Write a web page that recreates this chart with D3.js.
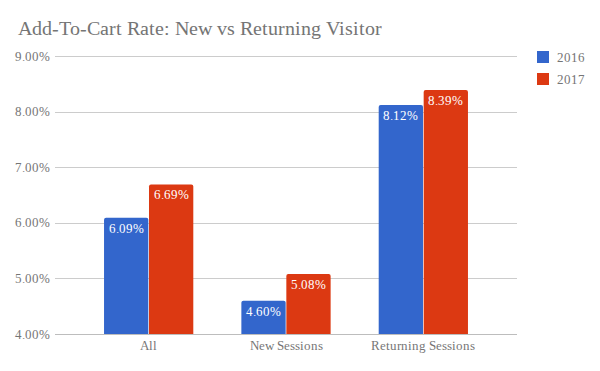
<!DOCTYPE html>
<html>
<head>
<meta charset="utf-8">
<script src="https://cdn.jsdelivr.net/npm/d3@7"></script>
<style>
  @font-face { font-family: "ChartSerif"; src: local("Liberation Serif"), local("LiberationSerif"), local("Tinos"), local("Times New Roman"); }
  body { margin: 0; background: #fff; font-family: "ChartSerif", "Liberation Serif", serif; }
</style>
</head>
<body>
<div id="chart"></div>
<script>
var categories = ["All", "New Sessions", "Returning Sessions"];
var seriesNames = ["2016", "2017"];
var values2016 = [6.09, 4.60, 8.12];
var values2017 = [6.69, 5.08, 8.39];
var yTicks = [4, 5, 6, 7, 8, 9];

var width = 600,
    height = 371,
    font = "ChartSerif, 'Liberation Serif', serif";

var colors = ["#3366cc", "#dc3912"];

var svg = d3.select("#chart").append("svg")
    .attr("width", width)
    .attr("height", height)
    .attr("font-family", font);

/* scales */
var x = d3.scaleBand()
    .domain(categories)
    .range([80, 492])
    .paddingInner(0.35)
    .paddingOuter(0.175);

var x1 = d3.scaleBand()
    .domain(seriesNames)
    .range([0, x.bandwidth()])
    .paddingInner(0.015);

var y = d3.scaleLinear()
    .domain([4, 9])
    .range([334, 56]);

/* title */
svg.append("text")
    .attr("x", 18)
    .attr("y", 35)
    .attr("font-size", 19.5)
    .attr("fill", "#757575")
    .attr("font-family", font)
    .text("Add-To-Cart Rate: New vs Returning Visitor");

/* gridlines + y labels */
var grid = svg.append("g");
grid.selectAll("line")
    .data(yTicks)
    .enter().append("line")
    .attr("x1", 55)
    .attr("x2", 517)
    .attr("y1", function(d) { return Math.round(y(d)) + 0.5; })
    .attr("y2", function(d) { return Math.round(y(d)) + 0.5; })
    .attr("stroke", function(d) { return d == 4 ? "#bdbdbd" : "#cccccc"; })
    .attr("stroke-width", 1);

grid.selectAll("text")
    .data(yTicks)
    .enter().append("text")
    .attr("x", 50)
    .attr("y", function(d) { return y(d) + 4.5; })
    .attr("text-anchor", "end")
    .attr("font-size", 12.5)
    .attr("fill", "#757575")
    .attr("font-family", font)
    .text(function(d) { return d.toFixed(2) + "%"; });

/* bars */
var rows = categories.map(function(c, i) {
    return { cat: c, vals: [
        { name: seriesNames[0], v: values2016[i], c: colors[0] },
        { name: seriesNames[1], v: values2017[i], c: colors[1] }
    ] };
});

var groups = svg.append("g")
    .selectAll("g")
    .data(rows)
    .enter().append("g")
    .attr("transform", function(d) { return "translate(" + x(d.cat) + ",0)"; });

var bar = groups.selectAll("g")
    .data(function(d) { return d.vals; })
    .enter().append("g");

bar.append("path")
    .attr("fill", function(d) { return d.c; })
    .attr("d", function(d) {
        var x0 = x1(d.name), w = x1.bandwidth(), t = y(d.v), b = y(4), r = 2;
        return "M" + x0 + "," + b + "V" + (t + r) + "Q" + x0 + "," + t + " " + (x0 + r) + "," + t +
               "H" + (x0 + w - r) + "Q" + (x0 + w) + "," + t + " " + (x0 + w) + "," + (t + r) + "V" + b + "Z";
    });

bar.append("text")
    .attr("x", function(d) { return x1(d.name) + x1.bandwidth() / 2; })
    .attr("y", function(d) { return y(d.v) + 15; })
    .attr("text-anchor", "middle")
    .attr("font-size", 12.5)
    .attr("fill", "#fff")
    .attr("font-family", font)
    .text(function(d) { return d.v.toFixed(2) + "%"; });

/* x labels */
svg.append("g")
    .selectAll("text")
    .data(categories)
    .enter().append("text")
    .attr("x", function(d) { return x(d) + x.bandwidth() / 2; })
    .attr("y", 350)
    .attr("text-anchor", "middle")
    .attr("font-size", 12.5)
    .attr("fill", "#757575")
    .attr("font-family", font)
    .text(function(d) { return d; });

/* legend */
var legend = svg.append("g")
    .selectAll("g")
    .data(seriesNames)
    .enter().append("g")
    .attr("transform", function(d, i) { return "translate(537," + (51 + i * 22) + ")"; });

legend.append("rect")
    .attr("width", 12)
    .attr("height", 12)
    .attr("fill", function(d, i) { return colors[i]; });

legend.append("text")
    .attr("x", 20)
    .attr("y", 10.5)
    .attr("font-size", 13)
    .attr("fill", "#757575")
    .attr("font-family", font)
    .text(function(d) { return d; });
</script>
</body>
</html>
